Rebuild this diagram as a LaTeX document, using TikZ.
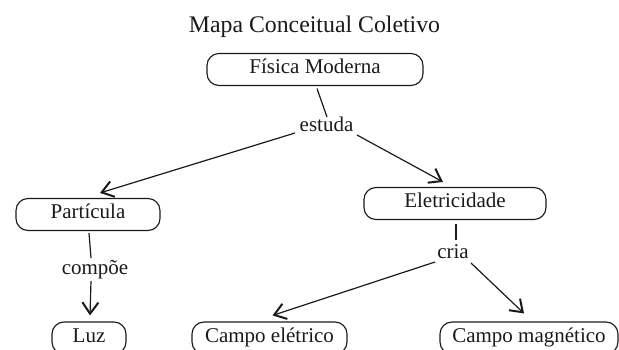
\documentclass[tikz,border=0pt]{standalone}
\usepackage{fontspec}
\setmainfont{Liberation Serif}
\usetikzlibrary{arrows.meta,calc}
\definecolor{ink}{HTML}{1A1A1A}
\tikzset{
  x=0.75pt, y=-0.75pt,
  concept/.style={draw=ink, line width=0.85pt, rounded corners=9pt, inner sep=0pt,
    minimum height=24pt, text height=0.662em, text depth=0pt,
    font=\fontsize{15.75pt}{18pt}\selectfont, text=ink},
  linklabel/.style={inner sep=0pt, anchor=base, font=\fontsize{15.75pt}{18pt}\selectfont, text=ink},
  conn/.style={draw=ink, line width=0.9pt},
  arr/.style={conn, -{Straight Barb[length=8.5pt,width=12pt,line width=1.5pt]}}
}
\begin{document}
\begin{tikzpicture}
\useasboundingbox (0,0) rectangle (619,350);
\node[anchor=base, inner sep=0pt, text=ink, font=\fontsize{17.85pt}{21pt}\selectfont] (title) at (314.5,32) {Mapa Conceitual Coletivo};

\node[concept, minimum width=162pt] (fm) at (315,69.5) {Física Moderna};
\node[concept, minimum width=108pt] (part) at (88,214.5) {Partícula};
\node[concept, minimum width=136.5pt] (elet) at (455,203.5) {Eletricidade};
\node[concept, minimum width=55.5pt] (luz) at (89,338) {Luz};
\node[concept, minimum width=116.25pt] (ce) at (269.5,338) {Campo elétrico};
\node[concept, minimum width=133.5pt] (cm) at (529,338) {Campo magnético};

\node[linklabel] (estuda) at (326.5,131) {estuda};
\node[linklabel] (compoe) at (95,274) {compõe};
\node[linklabel] (cria) at (453,258) {cria};

\draw[conn] ($(fm.south)+(2,2.5)$) -- ($(estuda.base)+(0.5,-14)$);
\draw[arr] ($(estuda.base)+(-31.5,2)$) -- ($(part.north)+(12,-5)$);
\draw[arr] ($(estuda.base)+(30.5,4)$) -- ($(elet.north)+(-12,-5)$);
\draw[conn] ($(part.south)+(1,2)$) -- ($(compoe.base)+(-4,-16)$);
\draw[arr] ($(compoe.base)+(-4,7)$) -- ($(luz.north)+(1,-6)$);
\draw[conn] ($(elet.south)+(1,4)$) -- ($(cria.base)+(3,-18)$);
\draw[arr] ($(cria.base)+(-18,4)$) -- ($(ce.north)+(3,-6)$);
\draw[arr] ($(cria.base)+(18,5)$) -- ($(cm.north)+(-5,-8)$);
\end{tikzpicture}
\end{document}
